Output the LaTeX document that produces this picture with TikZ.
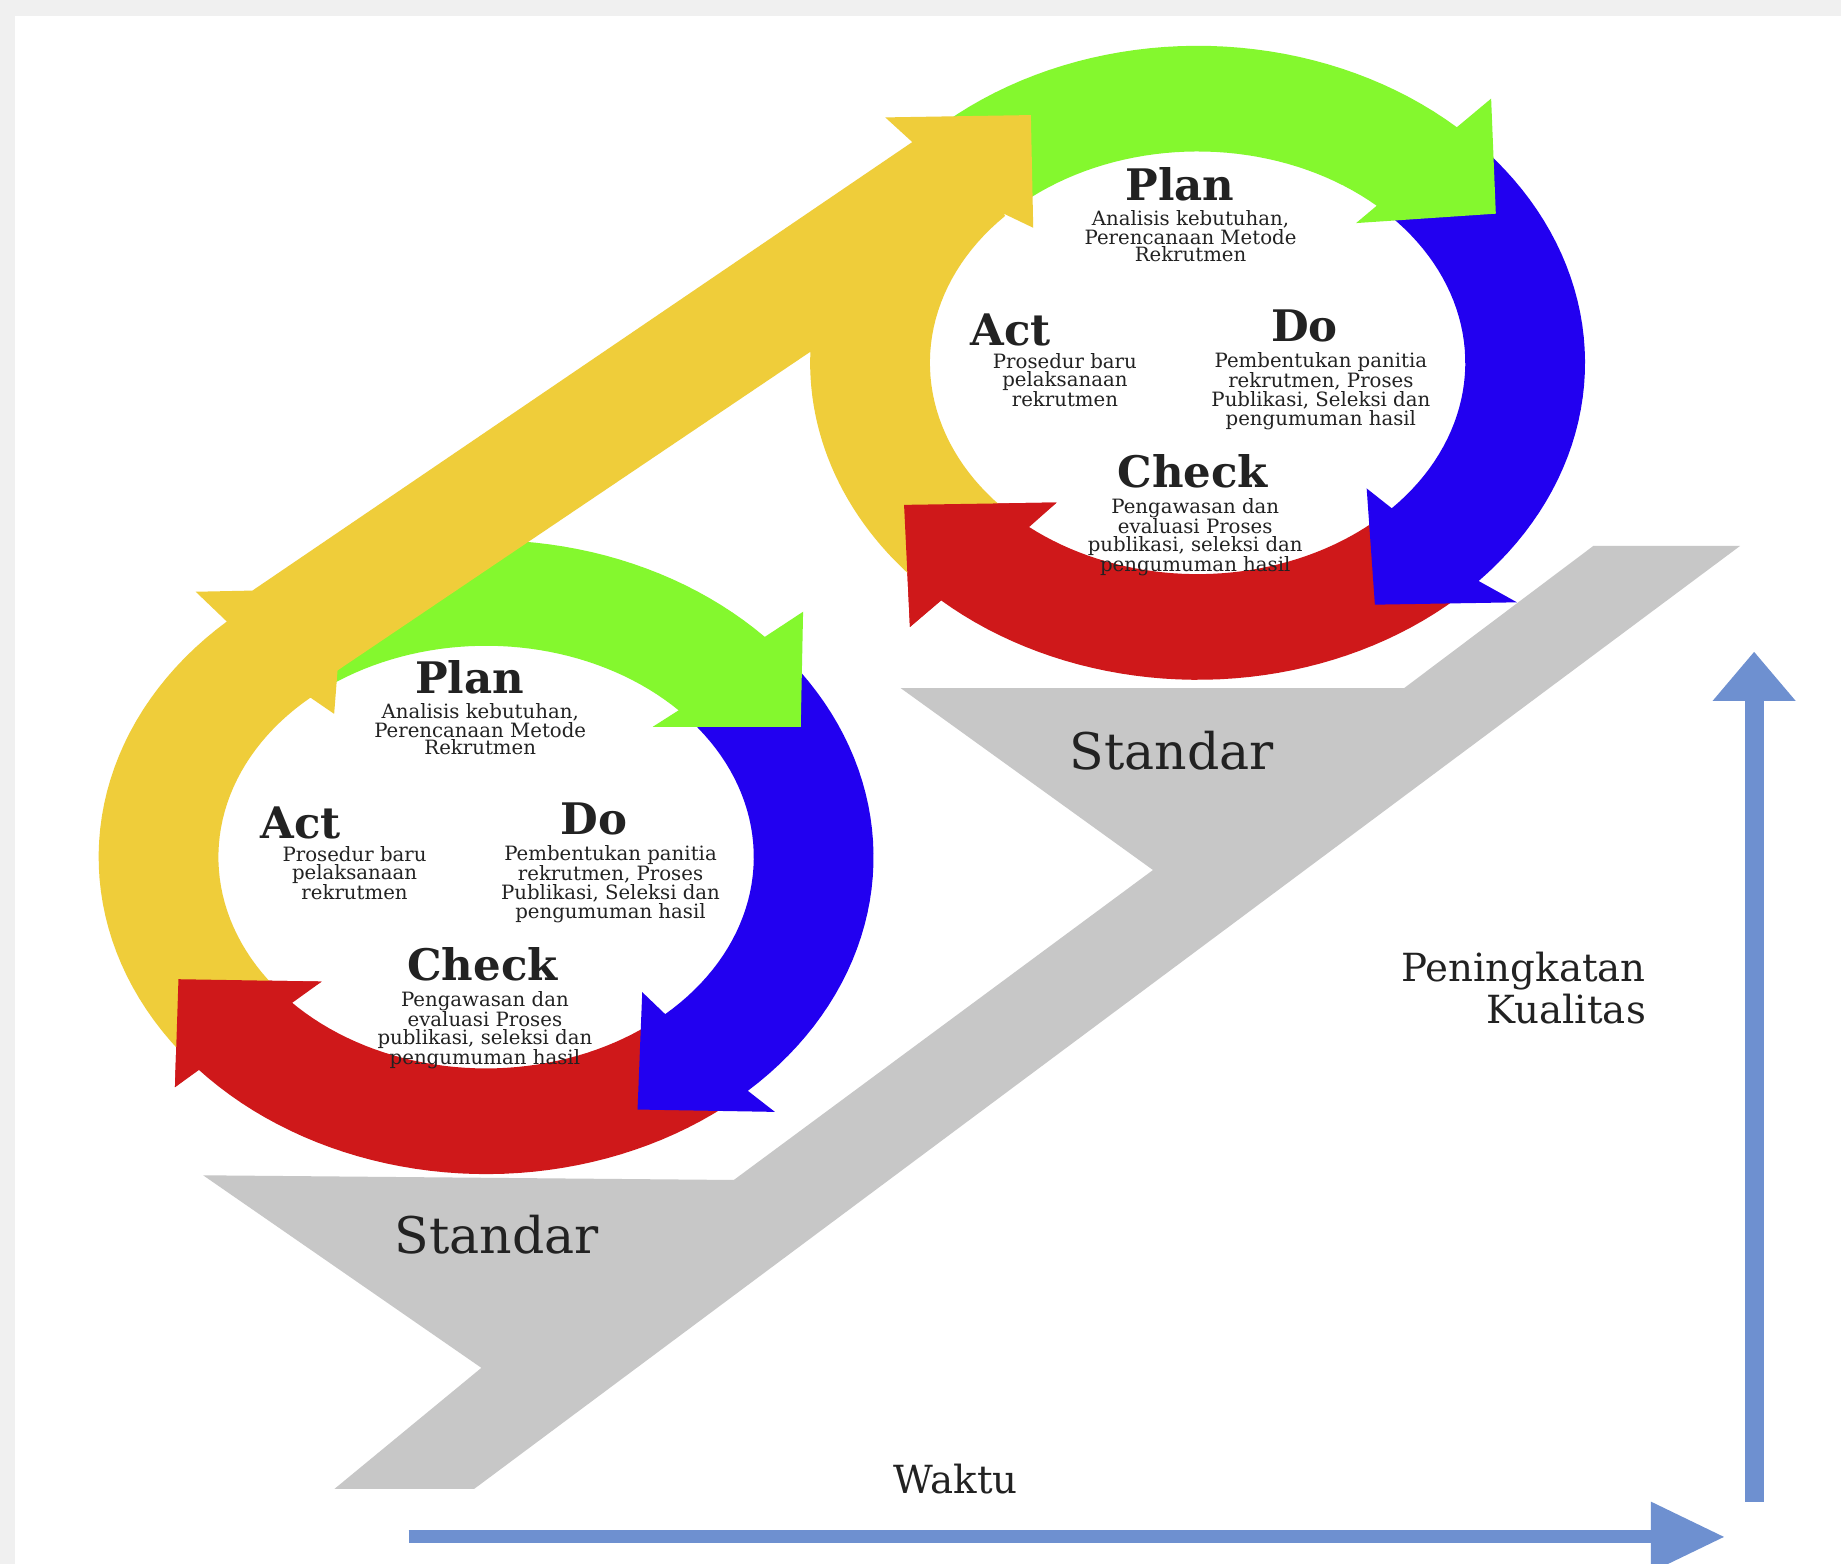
\documentclass[tikz,border=0pt]{standalone}
\usepackage{fontspec}
\setmainfont{DejaVu Serif}
\usetikzlibrary{arrows.meta}
\definecolor{cyel}{RGB}{239,205,58}
\definecolor{cgrn}{RGB}{132,248,46}
\definecolor{cblu}{RGB}{34,0,240}
\definecolor{cred}{RGB}{207,24,26}
\definecolor{cgry}{RGB}{199,199,199}
\definecolor{caxis}{RGB}{110,144,208}
\definecolor{cframe}{RGB}{240,240,240}
\definecolor{ctxt}{RGB}{34,34,34}
\begin{document}
\begin{tikzpicture}[x=1pt,y=-1pt,
  declare function={
    aox(\t)=414+330*cos(\t); aoy(\t)=730+270*sin(\t);
    aix(\t)=414+228*cos(\t); aiy(\t)=730+180*sin(\t);
    box(\t)=1020+330*cos(\t); boy(\t)=309+270*sin(\t);
    bix(\t)=1020+228*cos(\t); biy(\t)=309+180*sin(\t);
  },
  ttl/.style={font=\fontsize{37}{40}\selectfont\bfseries, text=ctxt, inner sep=0pt, anchor=base},
  dsc/.style={font=\fontsize{16.8}{15}\selectfont, text=ctxt, align=center, inner sep=0pt, anchor=north},
  stdlbl/.style={font=\fontsize{43}{46}\selectfont, text=ctxt, inner sep=0pt, anchor=base},
  axlbl/.style={font=\fontsize{33}{36}\selectfont, text=ctxt, inner sep=0pt},
  axisarrow/.style={draw=caxis, line width=#1},
]
\useasboundingbox (0,0) rectangle (1568,1332);
\fill[cframe] (0,0) rectangle (1568,1332);
\fill[white] (13,14) rectangle (1568,1332);

% gray "Standar" staircase
\fill[cgry] (285,1268) -- (410,1165) -- (173,1001) -- (625,1005) -- (982,741)
  -- (767,586) -- (1196,586) -- (1357,465) -- (1482,465) -- (404,1268) -- cycle;

% ---------- bottom cycle ----------
% red (Check)
\fill[cred] plot[domain=52:138,samples=40,variable=\t] ({aox(\t)},{aoy(\t)})
  -- (149,926) -- (152,834) -- (274,836)
  -- plot[domain=137:50,samples=40,variable=\t] ({aix(\t)},{aiy(\t)}) -- cycle;
% blue (Do)
\fill[cblu] plot[domain=-38:47.5,samples=40,variable=\t] ({aox(\t)},{aoy(\t)})
  -- (660,947) -- (543,945) -- (547,845)
  -- plot[domain=48:-40,samples=40,variable=\t] ({aix(\t)},{aiy(\t)}) -- cycle;
% green (Plan)
\fill[cgrn] plot[domain=232:316,samples=40,variable=\t] ({aox(\t)},{aoy(\t)})
  -- (684,521) -- (682,619) -- (556,619)
  -- plot[domain=316:232,samples=40,variable=\t] ({aix(\t)},{aiy(\t)}) -- cycle;

% ---------- top cycle ----------
\fill[cred] plot[domain=48:131.5,samples=40,variable=\t] ({box(\t)},{boy(\t)})
  -- (775,534) -- (770,430) -- (900,428)
  -- plot[domain=129:47,samples=40,variable=\t] ({bix(\t)},{biy(\t)}) -- cycle;
\fill[cblu] plot[domain=-42:43.5,samples=40,variable=\t] ({box(\t)},{boy(\t)})
  -- (1292,513) -- (1171,515) -- (1164,416)
  -- plot[domain=43.5:-44,samples=40,variable=\t] ({bix(\t)},{biy(\t)}) -- cycle;
\fill[cgrn] plot[domain=225:312,samples=40,variable=\t] ({box(\t)},{boy(\t)})
  -- (1270,84) -- (1274,182) -- (1155,190)
  -- plot[domain=312:225,samples=40,variable=\t] ({bix(\t)},{biy(\t)}) -- cycle;

% ---------- yellow (Act + rising arrow) ----------
\fill[cyel] plot[domain=140:228,samples=40,variable=\t] ({aox(\t)},{aoy(\t)})
  -- (166.7,504) -- (215,503) -- (777,121) -- (754,100) -- (878,98) -- (880,194) -- (855,182)
  -- plot[domain=224:135,samples=40,variable=\t] ({bix(\t)},{biy(\t)})
  -- plot[domain=135:182,samples=30,variable=\t] ({box(\t)},{boy(\t)})
  -- (287.5,571) -- (284.6,608)
  -- plot[domain=229:140,samples=40,variable=\t] ({aix(\t)},{aiy(\t)}) -- cycle;

% red heads on top of the yellow start
\fill[cred] (149,926) -- (152,834) -- (274,836) -- cycle;
\fill[cred] (775,534) -- (770,430) -- (900,428) -- cycle;

% ---------- axes ----------
\coordinate (wstart) at (348,1309);
\coordinate (wend) at (1469,1309);
\coordinate (qstart) at (1494,1279);
\coordinate (qend) at (1494,555);
\draw[axisarrow=11pt, -{Triangle[length=63pt,width=57pt]}] (wstart) -- (wend);
\draw[axisarrow=16pt, -{Triangle[length=42pt,width=68pt]}] (qstart) -- (qend);

% ---------- texts: bottom cycle ----------
\node[ttl] (planA) at (400,591) {Plan};
\node[dsc] (planAd) at (409,599) {Analisis kebutuhan,\\Perencanaan Metode\\Rekrutmen};
\node[ttl] (actA) at (256,714) {Act};
\node[dsc] (actAd) at (302,721) {Prosedur baru\\pelaksanaan\\rekrutmen};
\node[ttl] (doA) at (506,711) {Do};
\node[dsc] (doAd) at (520,720) {Pembentukan panitia\\rekrutmen, Proses\\Publikasi, Seleksi dan\\pengumuman hasil};
\node[ttl] (checkA) at (411,835) {Check};
\node[dsc] (checkAd) at (413,844) {Pengawasan dan\\evaluasi Proses\\publikasi, seleksi dan\\pengumuman hasil};

% ---------- texts: top cycle ----------
\node[ttl] (planB) at (1005,171) {Plan};
\node[dsc] (planBd) at (1014,179) {Analisis kebutuhan,\\Perencanaan Metode\\Rekrutmen};
\node[ttl] (actB) at (861,294) {Act};
\node[dsc] (actBd) at (907,301) {Prosedur baru\\pelaksanaan\\rekrutmen};
\node[ttl] (doB) at (1111,291) {Do};
\node[dsc] (doBd) at (1125,300) {Pembentukan panitia\\rekrutmen, Proses\\Publikasi, Seleksi dan\\pengumuman hasil};
\node[ttl] (checkB) at (1016,415) {Check};
\node[dsc] (checkBd) at (1018,424) {Pengawasan dan\\evaluasi Proses\\publikasi, seleksi dan\\pengumuman hasil};

% ---------- other labels ----------
\node[stdlbl] (stdA) at (423,1068) {Standar};
\node[stdlbl] (stdB) at (998,655) {Standar};
\node[axlbl, anchor=base east] (pen) at (1402,836) {Peningkatan};
\node[axlbl, anchor=base east] (kual) at (1402,872) {Kualitas};
\node[axlbl, anchor=base] (waktu) at (814,1272) {Waktu};
\end{tikzpicture}
\end{document}
